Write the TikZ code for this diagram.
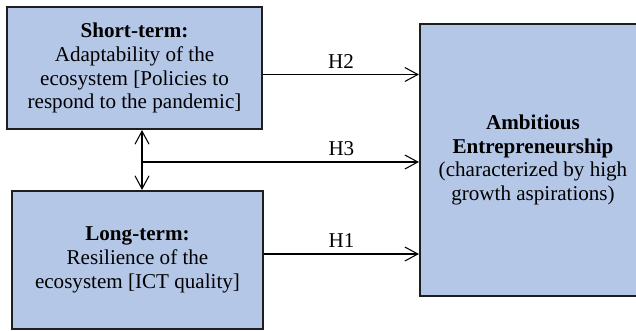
\documentclass[tikz,border=0pt]{standalone}
\usepackage{fontspec}
\setmainfont{Liberation Serif}
\usetikzlibrary{arrows.meta, positioning, calc}
\definecolor{boxblue}{HTML}{B4C7E7}
\definecolor{boxline}{HTML}{1E1E1E}
\begin{document}
\begin{tikzpicture}[>={Straight Barb[length=0.26cm,width=0.28cm,line width=0.6pt]},
        box/.style={draw=boxline,line width=1.2pt,fill=boxblue,align=center,inner sep=0pt},
        link/.style={->,line width=0.6pt},
        every node/.style={font=\fontsize{12}{13.6}\selectfont}]
      \clip (0,0) rectangle (12.72,-6.6);
      \node[box,minimum width=5.1cm,minimum height=2.44cm] (short) at (2.69,-1.36)
        {\textbf{Short-term:}\\Adaptability of the\\ecosystem [Policies to\\respond to the pandemic]};
      \node[box,minimum width=5.02cm,minimum height=2.76cm] (long) at (2.75,-5.2)
        {\textbf{Long-term:}\\Resilience of the\\ecosystem [ICT quality]};
      \node[box,minimum width=4.52cm,minimum height=5.44cm] (ambit) at (10.66,-3.2)
        {\textbf{Ambitious}\\\textbf{Entrepreneurship}\\(characterized by high\\growth aspirations)};
      \coordinate (h2) at (0,-1.49);
      \coordinate (h3) at (2.84,-3.24);
      \coordinate (h1) at (0,-5.08);
      \draw[link] (short.east |- h2) -- node[above,pos=0.5] {H2} (ambit.west |- h2);
      \draw[link] (h3) -- node[above,pos=0.72] {H3} (ambit.west |- h3);
      \draw[link] (long.east |- h1) -- node[above,pos=0.5] {H1} (ambit.west |- h1);
      \draw[link,<->] (short.south -| h3) -- (long.north -| h3);
    \end{tikzpicture}
\end{document}
